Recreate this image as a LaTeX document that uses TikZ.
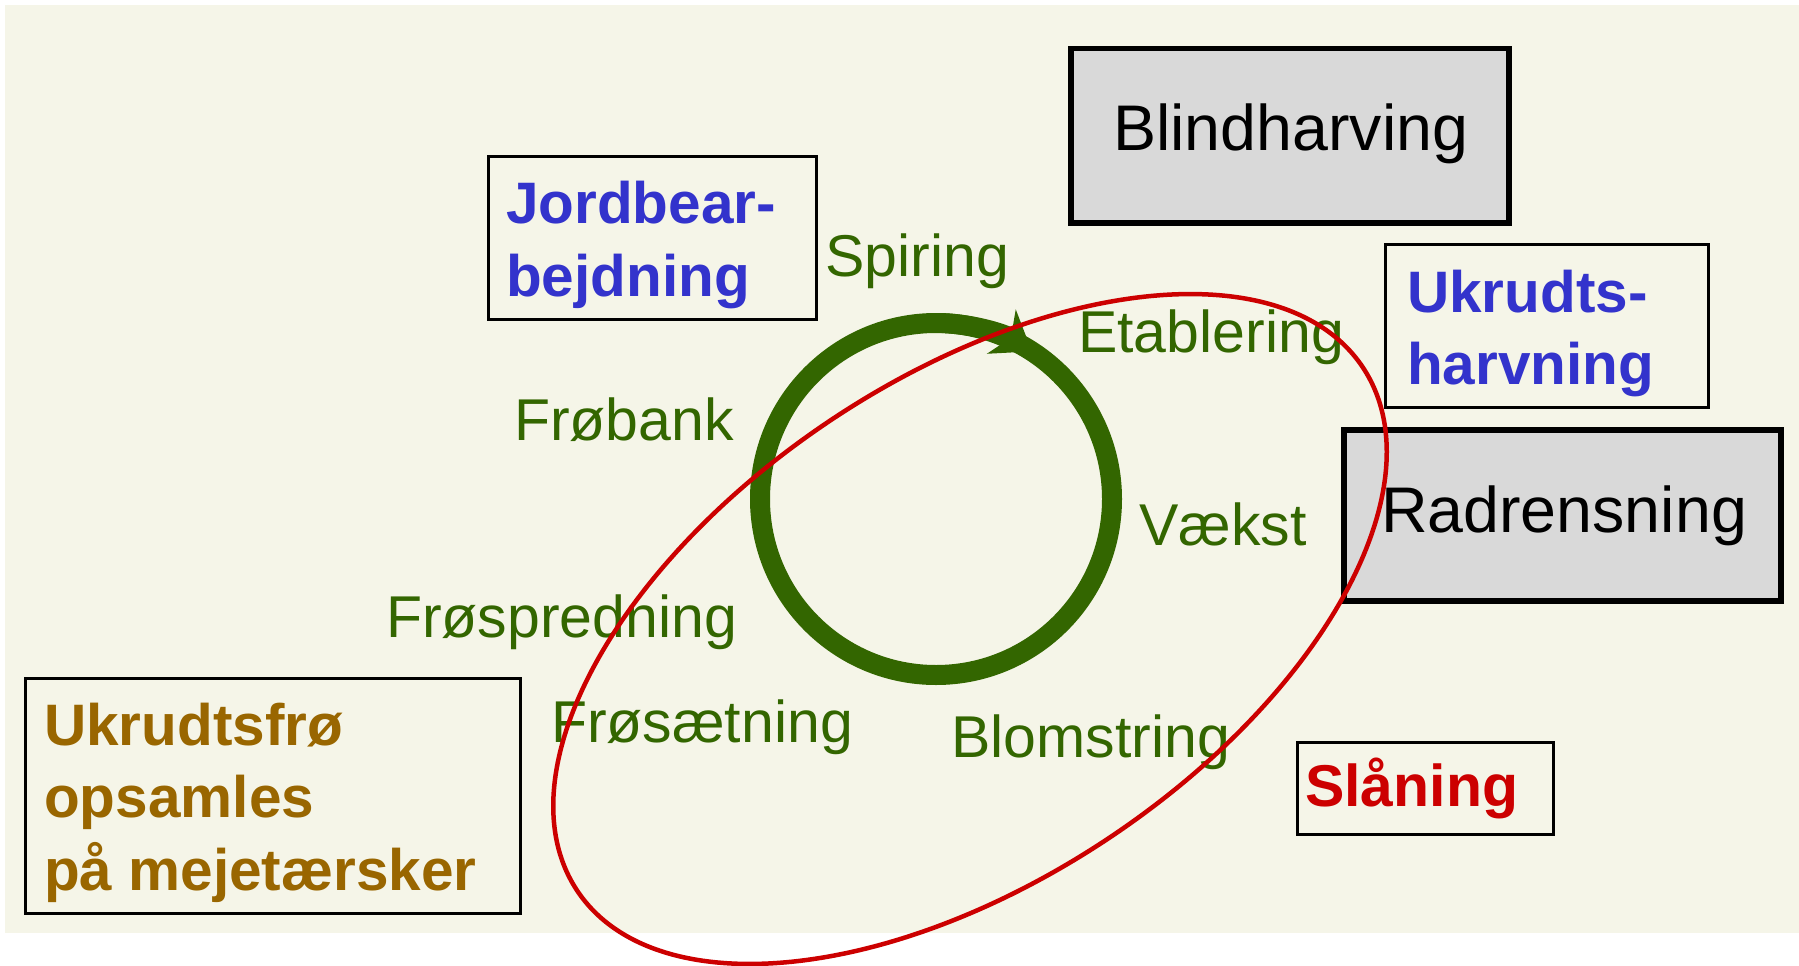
\documentclass[tikz,border=0pt]{standalone}
\usepackage{fontspec}
\setmainfont{Liberation Sans}
\usetikzlibrary{arrows.meta}
\definecolor{bgcol}{HTML}{F5F5E8}
\definecolor{boxgray}{HTML}{D9D9D9}
\definecolor{leafgreen}{HTML}{336600}
\definecolor{txtblue}{HTML}{3333CC}
\definecolor{txtbrown}{HTML}{996600}
\definecolor{txtred}{HTML}{CC0000}
\begin{document}
\begin{tikzpicture}[x=1pt,y=-1pt,
  graybox/.style={draw=black, line width=5.5pt, fill=boxgray, rectangle, inner sep=0pt, anchor=north west},
  plainbox/.style={draw=black, line width=3.8pt, rectangle, inner sep=0pt, anchor=north west},
  stage/.style={anchor=base west, inner sep=0pt, text=leafgreen, font=\fontsize{59}{72}\selectfont},
  bigtxt/.style={anchor=base west, inner sep=0pt, text=black, font=\fontsize{64.5}{76}\selectfont},
  boldtxt/.style={anchor=base west, inner sep=0pt, font=\fontsize{58.5}{73}\bfseries\selectfont},
  ring/.style={draw=leafgreen, line width=20pt},
  oval/.style={draw=txtred, line width=4.5pt}
]
\useasboundingbox (0,0) rectangle (1799,966);
\fill[white] (0,0) rectangle (1799,966);
\fill[bgcol] (5,5) rectangle (1799,933);

% boxes
\node[graybox, minimum width=438pt, minimum height=174pt] (blindbox) at (1068,46) {};
\node[graybox, minimum width=437pt, minimum height=171pt] (radbox) at (1341,427) {};
\node[plainbox, minimum width=328pt, minimum height=163pt] (jordbox) at (486.5,154.5) {};
\node[plainbox, minimum width=323pt, minimum height=163pt] (ukhbox) at (1383.5,242.5) {};
\node[plainbox, minimum width=495pt, minimum height=235pt] (frobox) at (23.5,676.5) {};
\node[plainbox, minimum width=256pt, minimum height=92pt] (slabox) at (1295.5,740.5) {};

% box texts
\node[bigtxt] (blindtxt) at (1113,150) {Blindharving};
\node[bigtxt] (radtxt) at (1381,532) {Radrensning};
\node[boldtxt, text=txtblue] (jordtxt) at (506,223) {\begin{tabular}[t]{@{}l@{}}Jordbear-\\bejdning\end{tabular}};
\node[boldtxt, text=txtblue, font=\fontsize{58.5}{72}\bfseries\selectfont] (ukhtxt) at (1407,312) {\begin{tabular}[t]{@{}l@{}}Ukrudts-\\harvning\end{tabular}};
\node[boldtxt, text=txtbrown, font=\fontsize{58.5}{72.5}\bfseries\selectfont] (frotxt) at (44,745) {\begin{tabular}[t]{@{}l@{}}Ukrudtsfrø\\opsamles\\på mejetærsker\end{tabular}};
\node[boldtxt, text=txtred, font=\fontsize{59}{70}\bfseries\selectfont] (slatxt) at (1305,806) {Slåning};

% life cycle ring
\coordinate (c) at (936,499);
\draw[ring] (c) circle[radius=176];
\draw[ring, -{Stealth[length=36pt,width=52pt,inset=11pt]}] (c) ++(-88:176) arc[start angle=-88, end angle=-57, radius=176];

% stage labels
\node[stage] (spiring) at (825,276) {Spiring};
\node[stage] (etab) at (1078,352) {Etablering};
\node[stage] (frobank) at (514,440) {Frøbank};
\node[stage] (vaekst) at (1139,545) {Vækst};
\node[stage] (frospred) at (386,637) {Frøspredning};
\node[stage] (frosaet) at (551,742) {Frøsætning};
\node[stage] (blom) at (951,757) {Blomstring};

% red ellipse
\begin{scope}[shift={(970,629)}, rotate=33.7]
\draw[oval] (0,0) ellipse[x radius=472, y radius=251];
\end{scope}
\end{tikzpicture}
\end{document}
